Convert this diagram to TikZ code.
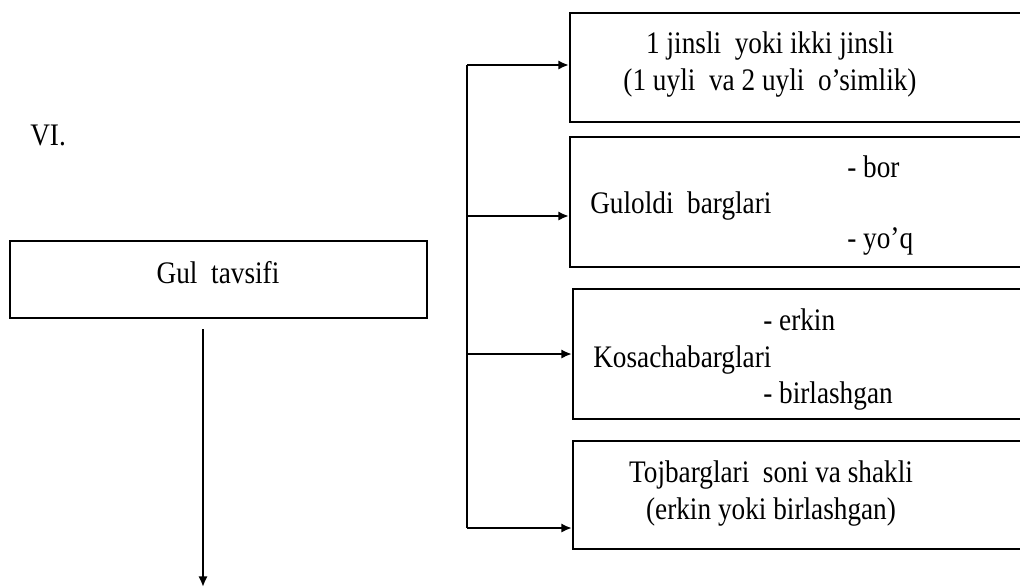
\documentclass[tikz,border=0pt]{standalone}
\usepackage{fontspec}
\setmainfont{Liberation Serif}
\newfontfamily\tmsfont[FakeStretch=0.87]{Liberation Serif}
\usetikzlibrary{arrows.meta}
\tikzset{mydraw/.style={black,line width=1.6pt,-{Latex[length=8pt,width=7pt]}}}
\tikzset{mybox/.style={draw=black,line width=1.6pt,inner sep=0pt}}
\tikzset{mynode/.style={font=\tmsfont\fontsize{23.5}{27.75}\selectfont,inner sep=0pt,align=center}}

\begin{document}
\begin{tikzpicture}[x=0.75pt,y=-0.75pt]
	\useasboundingbox (0,0) rectangle (1020,587);
	\clip (0,0) rectangle (1020,587);

	\node[mynode,anchor=base west] (num) at (30,145) {VI.};

	% Left box
	\node[mybox,minimum width=312.75pt,minimum height=57.75pt] (gul) at (218.5,279.5) {};
	\node[mynode,anchor=base] (gult) at (218,283) {Gul\ \ tavsifi};
	\coordinate (d0) at (203,329);
	\coordinate (d1) at (203,587);
	\draw[mydraw] (d0) -- (d1);

	% Right boxes
	\node[mybox,minimum width=352.5pt,minimum height=81.75pt] (b1) at (805,67.5) {};
	\node[mybox,minimum width=352.5pt,minimum height=97.5pt] (b2) at (805,202) {};
	\node[mybox,minimum width=350.25pt,minimum height=97.5pt] (b3) at (806.5,354) {};
	\node[mybox,minimum width=350.25pt,minimum height=81pt] (b4) at (806.5,495) {};

	\node[mynode,anchor=base] (b1t) at (770,90) {1 jinsli\ \ yoki ikki jinsli\\(1 uyli\ \ va 2 uyli\ \ o’simlik)};
	\node[mynode,anchor=base west] (b2a) at (847,177) {- bor};
	\node[mynode,anchor=base west] (b2t) at (590,213) {Guloldi\ \ barglari};
	\node[mynode,anchor=base west] (b2b) at (847,248) {- yo’q};
	\node[mynode,anchor=base west] (b3a) at (763,330) {- erkin};
	\node[mynode,anchor=base west] (b3t) at (593,367) {Kosachabarglari};
	\node[mynode,anchor=base west] (b3b) at (763,403) {- birlashgan};
	\node[mynode,anchor=base] (b4t) at (771,519) {Tojbarglari\ \ soni va shakli\\(erkin yoki birlashgan)};

	% Branch line
	\coordinate (t1) at (467,65);
	\coordinate (t2) at (467,216);
	\coordinate (t3) at (467,354);
	\coordinate (t4) at (467,528);
	\draw[black,line width=1.6pt] (t1) -- (t4);
	\draw[mydraw] (t1) -- (t1 -| b1.west);
	\draw[mydraw] (t2) -- (t2 -| b2.west);
	\draw[mydraw] (t3) -- (t3 -| b3.west);
	\draw[mydraw] (t4) -- (t4 -| b4.west);
\end{tikzpicture}
\end{document}
